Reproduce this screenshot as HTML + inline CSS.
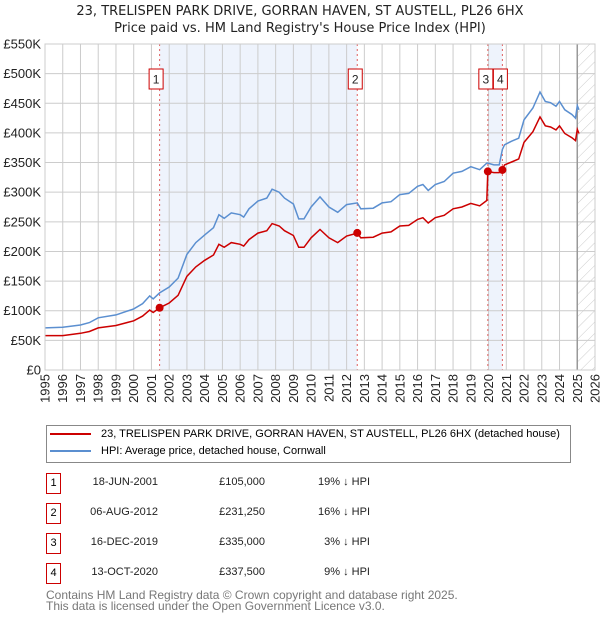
<!DOCTYPE html>
<html><head><meta charset="utf-8"><style>
body{margin:0;background:#fff;font-family:"Liberation Sans","DejaVu Sans",sans-serif;}
#wrap{position:relative;width:600px;height:620px;overflow:hidden;}
.row{position:absolute;font-size:11px;color:#222;white-space:nowrap;}
.num{position:absolute;width:13px;height:19px;border:1px solid #c00;text-align:center;line-height:19px;font-size:11px;}
</style></head><body>
<div id="wrap">
<svg id="chart" width="600" height="420" style="position:absolute;left:0;top:0"></svg>
<div style="position:absolute;left:46px;top:425px;width:523px;height:36px;border:1px solid #888;font-size:11px;">
 <div style="position:absolute;left:3px;top:2px;white-space:nowrap"><span style="display:inline-block;width:41px;height:2px;background:#c00;vertical-align:middle;margin-right:10px"></span>23, TRELISPEN PARK DRIVE, GORRAN HAVEN, ST AUSTELL, PL26 6HX (detached house)</div>
 <div style="position:absolute;left:3px;top:19px;white-space:nowrap"><span style="display:inline-block;width:41px;height:2px;background:#5b8fd0;vertical-align:middle;margin-right:10px"></span>HPI: Average price, detached house, Cornwall</div>
</div>
<div id="table"></div>
<div style="position:absolute;left:46px;top:590px;font-size:12px;color:#777;line-height:11px">Contains HM Land Registry data © Crown copyright and database right 2025.<br>This data is licensed under the Open Government Licence v3.0.</div>
</div>
<script>
const years=[1995,1996,1997,1997.5,1998,1999,2000,2000.5,2000.9,2001.1,2001.46,2002,2002.5,2003,2003.5,2004,2004.5,2004.8,2005.1,2005.5,2006,2006.2,2006.5,2007,2007.5,2007.8,2008.2,2008.5,2009,2009.3,2009.6,2010,2010.5,2011,2011.5,2012,2012.6,2012.8,2013.5,2014,2014.5,2015,2015.5,2016,2016.3,2016.6,2017,2017.5,2018,2018.5,2019,2019.5,2019.9,2019.96,2020.3,2020.6,2020.78,2020.9,2021.3,2021.7,2022,2022.5,2022.9,2023.2,2023.5,2023.8,2024,2024.3,2024.7,2024.9,2025.0,2025.1];
const hpi=[71,72,76,80,88,93,103,112,125,120,130,140,155,195,215,228,240,262,256,265,262,258,272,285,290,305,300,290,280,255,255,275,292,275,266,279,282,272,273,282,284,296,298,310,313,303,313,318,332,335,343,338,349,349,346,346,372,380,386,391,422,442,469,453,451,445,453,439,431,425,446,439];
const prop=[58,58,62,65,71,75,83,91,101,97,105,113,126,158,174,185,194,212,207,215,212,209,220,231,235,247,243,235,227,207,207,223,237,223,215,226,231,223,224,231,233,243,244,254,257,248,257,261,272,275,281,277,286,335,333,333,337.5,346,351,356,384,402,427,412,410,405,412,399,392,387,406,399];
const saleYears=[2001.46,2012.6,2019.96,2020.78];
const salePrices=[105,231.25,335,337.5];
const saleLabels=["1","2","3","4"];
const saleDates=["18-JUN-2001","06-AUG-2012","16-DEC-2019","13-OCT-2020"];
const salePriceText=["£105,000","£231,250","£335,000","£337,500"];
const saleHpiText=["19% ↓ HPI","16% ↓ HPI","3% ↓ HPI","9% ↓ HPI"];
const yTicks=[0,50,100,150,200,250,300,350,400,450,500,550];
const yTickLabels=["£0","£50K","£100K","£150K","£200K","£250K","£300K","£350K","£400K","£450K","£500K","£550K"];
const xTicks=[1995,1996,1997,1998,1999,2000,2001,2002,2003,2004,2005,2006,2007,2008,2009,2010,2011,2012,2013,2014,2015,2016,2017,2018,2019,2020,2021,2022,2023,2024,2025,2026];
const forecastStart=2025.0;

const L=45,R=595,T=44,B=370,x0=1995,x1=2026,yMax=550;
const X=v=>L+(v-x0)/(x1-x0)*(R-L);
const Y=v=>B-v/yMax*(B-T);
const svg=document.getElementById('chart');const NS='http://www.w3.org/2000/svg';
function mk(tag,attrs,name,parent){const e=document.createElementNS(NS,tag);for(const k in attrs)e.setAttribute(k,attrs[k]);


(parent||svg).appendChild(e);return e;}
const defs=mk('defs',{},'defs');
const pat=mk('pattern',{id:'hatch',width:8,height:8,patternUnits:'userSpaceOnUse',patternTransform:'rotate(45)'},'hatch-pattern',defs);
mk('line',{x1:0,y1:0,x2:0,y2:8,stroke:'#ccc','stroke-width':1},'hatch-line',pat);
mk('rect',{x:L,y:T,width:R-L,height:B-T,fill:'#fff'},'plot-background');
mk('rect',{x:X(saleYears[0]),y:T,width:X(saleYears[1])-X(saleYears[0]),height:B-T,fill:'#eef3fc'},'shade-1-2');
mk('rect',{x:X(saleYears[2]),y:T,width:X(saleYears[3])-X(saleYears[2]),height:B-T,fill:'#eef3fc'},'shade-3-4');
mk('rect',{x:X(forecastStart),y:T,width:R-X(forecastStart),height:B-T,fill:'url(#hatch)'},'forecast-hatch');
xTicks.forEach(t=>mk('line',{x1:X(t),x2:X(t),y1:T,y2:B,stroke:'#ccc','stroke-width':1},'x-gridline'));
yTicks.forEach((t,i)=>{mk('line',{x1:L,x2:R,y1:Y(t),y2:Y(t),stroke:'#ccc','stroke-width':1},'y-gridline');
 const tx=mk('text',{x:L-4,y:Y(t)+4.5,'text-anchor':'end','font-size':13,fill:'#222'},'y-tick-label');tx.textContent=yTickLabels[i];});
xTicks.forEach(t=>{const tx=mk('text',{x:0,y:0,'text-anchor':'end','font-size':13,fill:'#222',transform:`translate(${X(t)+4.5},${B+4}) rotate(-90)`},'x-tick-label');tx.textContent=t;});
mk('line',{x1:X(forecastStart),x2:X(forecastStart),y1:T,y2:B,stroke:'#999','stroke-width':1.5},'forecast-line');
saleYears.forEach((s,i)=>mk('line',{x1:X(s),x2:X(s),y1:T,y2:B,stroke:'#e06060','stroke-width':1,'stroke-dasharray':'2,3'},'sale-vline'));
const pts=a=>years.map((y,i)=>X(y).toFixed(1)+','+Y(a[i]).toFixed(1)).join(' ');
mk('polyline',{points:pts(hpi),fill:'none',stroke:'#5b8fd0','stroke-width':1.5},'hpi-line');
mk('polyline',{points:pts(prop),fill:'none',stroke:'#cc0000','stroke-width':1.5},'property-line');
saleYears.forEach((s,i)=>mk('circle',{cx:X(s),cy:Y(salePrices[i]),r:4,fill:'#cc0000'},'sale-point'));
saleYears.forEach((s,i)=>{let cx=X(s)-2;if(i==0)cx=X(s)-3.5;
 const g=mk('g',{},'sale-marker-'+saleLabels[i]);
 mk('rect',{x:cx-7,y:69,width:14,height:20,fill:'#fff',stroke:'#c00','stroke-width':1},'sale-marker-box',g);
 const tx=mk('text',{x:cx,y:83.5,'text-anchor':'middle','font-size':12,fill:'#222'},'sale-marker-label',g);tx.textContent=saleLabels[i];});
mk('rect',{x:L,y:T,width:R-L,height:B-T,fill:'none',stroke:'#ccc'},'plot-border');
const t1=mk('text',{x:300,y:15,'text-anchor':'middle','font-size':13,fill:'#222','font-family':'DejaVu Sans, sans-serif'},'chart-title');t1.textContent='23, TRELISPEN PARK DRIVE, GORRAN HAVEN, ST AUSTELL, PL26 6HX';
const t2=mk('text',{x:300,y:32,'text-anchor':'middle','font-size':13,fill:'#222','font-family':'DejaVu Sans, sans-serif'},'chart-subtitle');t2.textContent="Price paid vs. HM Land Registry's House Price Index (HPI)";
const tb=document.getElementById('table');const rowY=[473,503,533,563];
saleLabels.forEach((l,i)=>{
 const b=document.createElement('div');b.className='num';b.style.left='46px';b.style.top=rowY[i]+'px';b.textContent=l;
 
 tb.appendChild(b);
 const cells=[[saleDates[i],158,'sale-date'],[salePriceText[i],265,'sale-price'],[saleHpiText[i],370,'sale-hpi-diff']];
 cells.forEach(c=>{const d=document.createElement('div');d.className='row';d.style.right=(600-c[1])+'px';d.style.top=(rowY[i]+3)+'px';d.textContent=c[0];
 
 tb.appendChild(d);});
});
</script>
</body></html>
